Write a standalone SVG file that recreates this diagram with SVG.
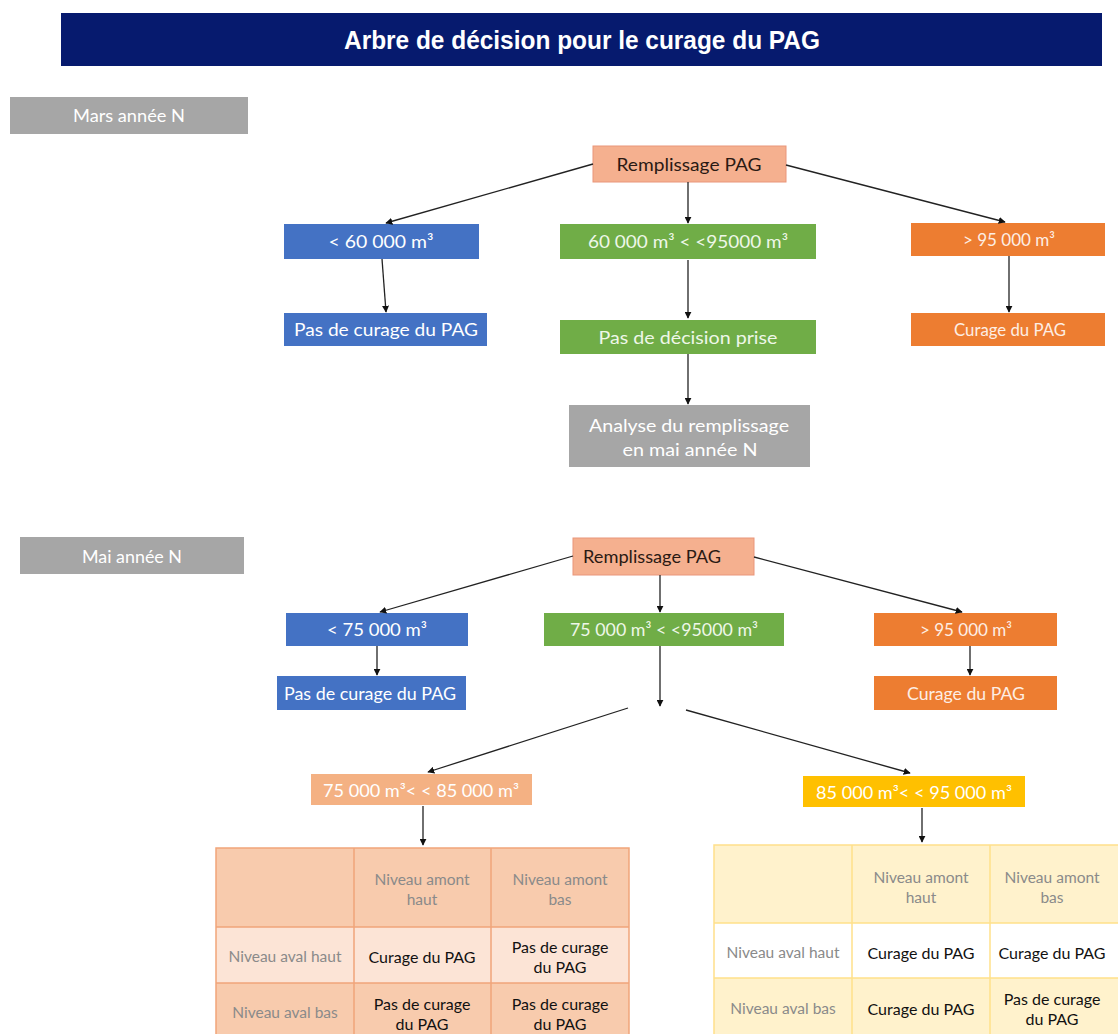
<svg xmlns="http://www.w3.org/2000/svg" width="1118" height="1034" viewBox="0 0 1118 1034">
<defs>
<marker id="ah" viewBox="0 0 10 10" refX="9" refY="5" markerWidth="7" markerHeight="7" markerUnits="userSpaceOnUse" orient="auto">
<path d="M0,0 L10,5 L0,10 z" fill="#111"/>
</marker>
<style>
.t{font-family:Lato,"Open Sans","Liberation Sans",sans-serif;text-anchor:middle;dominant-baseline:central}
.w{fill:#ffffff}
.s16{font-size:18px}
.s15{font-size:17px}
.g{fill:#8a8a8a;font-size:15.5px}
.k{fill:#111;font-size:16px}
.c{stroke:#222;stroke-width:1.3;fill:none;marker-end:url(#ah)}
.gray{fill:#a6a6a6}
.blue{fill:#4472c4}
.green{fill:#70ad47}
.orange{fill:#ed7d31}
</style>
</defs>
<rect width="1118" height="1034" fill="#ffffff"/>

<g id="title">
<rect x="61" y="13" width="1041" height="53" fill="#061a6e"/>
<text x="582" y="40" font-family="'Liberation Sans',Arial,sans-serif" font-weight="bold" font-size="25" fill="#ffffff" text-anchor="middle" dominant-baseline="central" textLength="476" lengthAdjust="spacingAndGlyphs">Arbre de décision pour le curage du PAG</text>
</g>

<g id="mars-label">
<rect class="gray" x="10" y="97" width="238" height="37"/>
<text class="t w s16" x="129" y="115" textLength="112" lengthAdjust="spacingAndGlyphs">Mars année N</text>
</g>

<g id="m-root">
<rect x="593" y="146" width="193" height="36" fill="#f5b08f" stroke="#e9967a" stroke-width="1"/>
<text class="t s16" x="689" y="164" fill="#2a1a14" textLength="145" lengthAdjust="spacingAndGlyphs">Remplissage PAG</text>
</g>
<g id="m-lt60">
<rect class="blue" x="284" y="224" width="195" height="35"/>
<text class="t w s16" x="381" y="241" textLength="105" lengthAdjust="spacingAndGlyphs">&lt; 60 000 m³</text>
</g>
<g id="m-mid">
<rect class="green" x="560" y="224" width="256" height="35"/>
<text class="t s16" x="688" y="241" fill="#eef7e8" textLength="200" lengthAdjust="spacingAndGlyphs">60 000 m³ &lt; &lt;95000 m³</text>
</g>
<g id="m-gt95">
<rect class="orange" x="911" y="223" width="194" height="33"/>
<text class="t s16" x="1009" y="239" fill="#fdeee4" textLength="92" lengthAdjust="spacingAndGlyphs">&gt; 95 000 m³</text>
</g>
<g id="m-nocurage">
<rect class="blue" x="284" y="313" width="203" height="33"/>
<text class="t w s16" x="386" y="329" textLength="184" lengthAdjust="spacingAndGlyphs">Pas de curage du PAG</text>
</g>
<g id="m-nodecision">
<rect class="green" x="560" y="320" width="256" height="34"/>
<text class="t s16" x="688" y="337" fill="#eef7e8" textLength="179" lengthAdjust="spacingAndGlyphs">Pas de décision prise</text>
</g>
<g id="m-curage">
<rect class="orange" x="911" y="313" width="194" height="33"/>
<text class="t s16" x="1010" y="329" fill="#fdeee4" textLength="112" lengthAdjust="spacingAndGlyphs">Curage du PAG</text>
</g>
<g id="m-analyse">
<rect class="gray" x="569" y="405" width="241" height="62"/>
<text class="t w s16" x="689" y="425" textLength="200" lengthAdjust="spacingAndGlyphs">Analyse du remplissage</text>
<text class="t w s16" x="690" y="449" textLength="135" lengthAdjust="spacingAndGlyphs">en mai année N</text>
</g>

<g id="mai-label">
<rect class="gray" x="20" y="537" width="224" height="37"/>
<text class="t w s16" x="132" y="556" textLength="100" lengthAdjust="spacingAndGlyphs">Mai année N</text>
</g>
<g id="a-root">
<rect x="573" y="538" width="181" height="37" fill="#f5b08f" stroke="#e9967a" stroke-width="1"/>
<text class="t s16" x="652" y="556" fill="#2a1a14" textLength="138" lengthAdjust="spacingAndGlyphs">Remplissage PAG</text>
</g>
<g id="a-lt75">
<rect class="blue" x="286" y="613" width="182" height="33"/>
<text class="t w s16" x="377" y="629" textLength="100" lengthAdjust="spacingAndGlyphs">&lt; 75 000 m³</text>
</g>
<g id="a-mid">
<rect class="green" x="544" y="613" width="240" height="33"/>
<text class="t s16" x="664" y="629" fill="#eef7e8" textLength="188" lengthAdjust="spacingAndGlyphs">75 000 m³ &lt; &lt;95000 m³</text>
</g>
<g id="a-gt95">
<rect class="orange" x="874" y="613" width="183" height="33"/>
<text class="t s16" x="966" y="629" fill="#fdeee4" textLength="92" lengthAdjust="spacingAndGlyphs">&gt; 95 000 m³</text>
</g>
<g id="a-nocurage">
<rect class="blue" x="277" y="676" width="189" height="34"/>
<text class="t w s16" x="370" y="693" textLength="172" lengthAdjust="spacingAndGlyphs">Pas de curage du PAG</text>
</g>
<g id="a-curage">
<rect class="orange" x="874" y="676" width="183" height="34"/>
<text class="t s16" x="966" y="693" fill="#fdeee4" textLength="118" lengthAdjust="spacingAndGlyphs">Curage du PAG</text>
</g>
<g id="a-75-85">
<rect x="311" y="774" width="221" height="31" fill="#f4b183"/>
<text class="t w s15" x="421" y="790" textLength="196" lengthAdjust="spacingAndGlyphs">75 000 m³&lt; &lt; 85 000 m³</text>
</g>
<g id="a-85-95">
<rect x="803" y="776" width="222" height="31" fill="#ffc000"/>
<text class="t w s15" x="914" y="792" textLength="196" lengthAdjust="spacingAndGlyphs">85 000 m³&lt; &lt; 95 000 m³</text>
</g>

<g id="table-left">
<rect x="216" y="848" width="413" height="79" fill="#f8cbad"/>
<rect x="216" y="927" width="413" height="56" fill="#fce4d6"/>
<rect x="216" y="983" width="413" height="60" fill="#f8cbad"/>
<g stroke="#f1a57a" stroke-width="1.5" fill="none">
<rect x="216" y="848" width="413" height="195"/>
<line x1="354" y1="848" x2="354" y2="1043"/>
<line x1="491" y1="848" x2="491" y2="1043"/>
<line x1="216" y1="927" x2="629" y2="927"/>
<line x1="216" y1="983" x2="629" y2="983"/>
</g>
<text class="t g" x="422" y="879">Niveau amont</text>
<text class="t g" x="422" y="899">haut</text>
<text class="t g" x="560" y="879">Niveau amont</text>
<text class="t g" x="560" y="899">bas</text>
<text class="t g" x="285" y="956">Niveau aval haut</text>
<text class="t k" x="422" y="956">Curage du PAG</text>
<text class="t k" x="560" y="946">Pas de curage</text>
<text class="t k" x="560" y="966">du PAG</text>
<text class="t g" x="285" y="1012">Niveau aval bas</text>
<text class="t k" x="422" y="1003">Pas de curage</text>
<text class="t k" x="422" y="1023">du PAG</text>
<text class="t k" x="560" y="1003">Pas de curage</text>
<text class="t k" x="560" y="1023">du PAG</text>
</g>

<g id="table-right">
<rect x="714" y="845" width="410" height="78" fill="#fff2cc"/>
<rect x="714" y="923" width="410" height="55" fill="#ffffff"/>
<rect x="714" y="978" width="410" height="65" fill="#fff2cc"/>
<g stroke="#ffe08a" stroke-width="1.5" fill="none">
<rect x="714" y="845" width="410" height="198"/>
<line x1="852" y1="845" x2="852" y2="1043"/>
<line x1="990" y1="845" x2="990" y2="1043"/>
<line x1="714" y1="923" x2="1124" y2="923"/>
<line x1="714" y1="978" x2="1124" y2="978"/>
</g>
<text class="t g" x="921" y="877">Niveau amont</text>
<text class="t g" x="921" y="897">haut</text>
<text class="t g" x="1052" y="877">Niveau amont</text>
<text class="t g" x="1052" y="897">bas</text>
<text class="t g" x="783" y="952">Niveau aval haut</text>
<text class="t k" x="921" y="952">Curage du PAG</text>
<text class="t k" x="1052" y="952">Curage du PAG</text>
<text class="t g" x="783" y="1008">Niveau aval bas</text>
<text class="t k" x="921" y="1008">Curage du PAG</text>
<text class="t k" x="1052" y="998">Pas de curage</text>
<text class="t k" x="1052" y="1018">du PAG</text>
</g>

<g id="connectors">
<line class="c" x1="593" y1="164" x2="386" y2="223"/>
<line class="c" x1="688" y1="182" x2="688" y2="223"/>
<line class="c" x1="786" y1="165" x2="1005" y2="222"/>
<line class="c" x1="382" y1="259" x2="386" y2="312"/>
<line class="c" x1="688" y1="260" x2="688" y2="318"/>
<line class="c" x1="688" y1="354" x2="688" y2="404"/>
<line class="c" x1="1009" y1="256" x2="1009" y2="312"/>
<line class="c" x1="573" y1="556" x2="380" y2="612"/>
<line class="c" x1="660" y1="575" x2="660" y2="612"/>
<line class="c" x1="754" y1="557" x2="962" y2="612"/>
<line class="c" x1="377" y1="646" x2="377" y2="675"/>
<line class="c" x1="660" y1="646" x2="660" y2="706"/>
<line class="c" x1="970" y1="646" x2="970" y2="675"/>
<line class="c" x1="628" y1="708" x2="428" y2="772"/>
<line class="c" x1="686" y1="710" x2="910" y2="773"/>
<line class="c" x1="423" y1="806" x2="423" y2="845"/>
<line class="c" x1="922" y1="808" x2="922" y2="842"/>
</g>
</svg>
